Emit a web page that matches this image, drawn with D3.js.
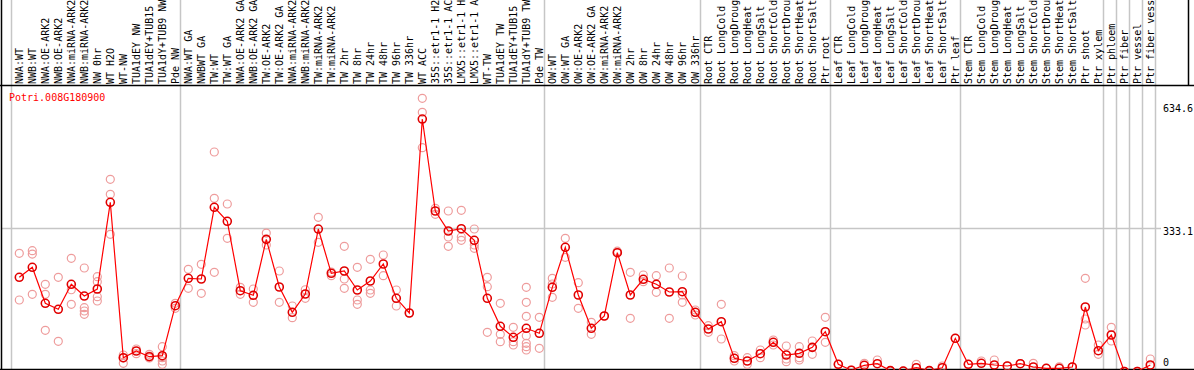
<!DOCTYPE html>
<meta charset="utf-8">
<title>Potri.008G180900</title>
<style>
body {
  margin: 0;
  background: #fff;
}
text {
  font-family: "DejaVu Sans Mono", monospace;
  font-size: 10px;
}
</style>
<body>
<script src="https://cdnjs.cloudflare.com/ajax/libs/d3/7.8.5/d3.min.js"></script>
<script>
var geneId = "Potri.008G180900";

var samples = [
  "NWA:WT", "NWB:WT", "NWA:OE-ARK2", "NWB:OE-ARK2", "NWA:miRNA-ARK2", "NWB:miRNA-ARK2",
  "NW 0hr", "WT H2O", "WT-NW", "TUA1dEY NW", "TUA1dEY+TUB15 NW", "TUA1dY+TUB9 NW", "Pde NW",
  "NWA:WT GA", "NWBWT GA", "TW:WT", "TW:WT GA", "NWA:OE-ARK2 GA", "NWB:OE-ARK2 GA",
  "TW:OE-ARK2", "TW:OE-ARK2 GA", "NWA:miRNA-ARK2", "NWB:miRNA-ARK2", "TW:miRNA-ARK2", "TW:miRNA-ARK2",
  "TW 2hr", "TW 8hr", "TW 24hr", "TW 48hr", "TW 96hr", "TW 336hr", "WT ACC",
  "35S::etr1-1 H2O", "35S::etr1-1 ACC", "LMX5::etr1-1 H2O", "LMX5::etr1-1 ACC",
  "WT-TW", "TUA1dEY TW", "TUA1dEY+TUB15 TW", "TUA1dY+TUB9 TW", "Pde TW",
  "OW:WT", "OW:WT GA", "OW:OE-ARK2", "OW:OE-ARK2 GA", "OW:miRNA-ARK2", "OW:miRNA-ARK2",
  "OW 2hr", "OW 8hr", "OW 24hr", "OW 48hr", "OW 96hr", "OW 336hr",
  "Root CTR", "Root LongCold", "Root LongDrought", "Root LongHeat", "Root LongSalt",
  "Root ShortCold", "Root ShortDrought", "Root ShortHeat", "Root ShortSalt", "Ptr root",
  "Leaf CTR", "Leaf LongCold", "Leaf LongDrought", "Leaf LongHeat", "Leaf LongSalt",
  "Leaf ShortCold", "Leaf ShortDrought", "Leaf ShortHeat", "Leaf ShortSalt", "Ptr leaf",
  "Stem CTR", "Stem LongCold", "Stem LongDrought", "Stem LongHeat", "Stem LongSalt",
  "Stem ShortCold", "Stem ShortDrought", "Stem ShortHeat", "Stem ShortSalt", "Ptr shoot", "Ptr xylem",
  "Ptr phloem", "Ptr fiber", "Ptr vessel", "Ptr fiber vessel"
];

// index where each group of samples starts (last one closes the final group)
var groupStarts = [0, 13, 41, 53, 63, 73, 84, 85, 86, 87, 88];

var means = [
  219.4, 242.6, 159.1, 145.2, 203.2, 176.0, 192.3, 393.4, 32.9, 48.5, 35.3, 37.6, 153.5,
  217.1, 215.5, 381.8, 349.3, 188.3, 177.7, 307.5, 196.9, 138.2, 180.7, 331.4, 228.7, 234.0,
  190.0, 210.8, 250.3, 170.7, 136.6, 586.5, 373.2, 326.8, 332.1, 305.2, 170.7, 105.8, 80.2, 101.1, 89.5,
  196.2, 289.0, 178.4, 101.1, 129.7, 276.5, 178.4, 214.8, 203.2, 185.3, 186.0, 138.2,
  99.5, 116.4, 31.5, 25.3, 42.2, 68.7, 39.2, 43.1, 57.0, 93.2,
  17.6, 4.0, 15.3, 19.0, 3.0, 2.0, 9.7, 3.0, 9.7, 77.9,
  17.6, 19.9, 16.0, 13.7, 19.0, 11.4, 8.3, 8.3, 11.4, 150.5, 49.2,
  85.6, 1.0, 1.0, 16.0
];

var replicates = [
  [275.1, 166.8], [281.1, 273.4, 180.0], [203.2, 180.0, 96.5], [219.4, 71.0],
  [263.5, 190.6, 156.8], [241.0, 148.9, 141.2, 133.6], [220.8, 209.2, 174.4, 164.4],
  [446.7, 411.9, 319.1], [39.2, 19.9, 32.0], [53.1, 42.2], [40.8, 32.2, 36.9],
  [58.4, 32.9, 25.3, 17.6], [159.1, 147.5],
  [238.0, 193.9], [249.6, 182.3], [510.0, 402.6, 231.0], [389.4, 309.9], [196.2, 180.0],
  [192.3, 161.4], [322.1, 294.3], [234.0, 161.4], [152.8, 125.7], [190.6, 170.7],
  [358.6, 300.6], [231.7, 223.1], [291.3, 215.5, 193.9], [242.6, 166.8, 156.8],
  [261.2, 190.0, 182.3], [271.1, 223.1], [190.0, 152.8], [136.6], [634.6, 602.1, 520.0],
  [379.4, 365.5], [373.2, 312.9, 291.3], [374.8, 312.9, 305.2], [331.4, 294.3, 286.7],
  [219.4, 197.6, 91.8], [159.1, 87.2, 70.0], [103.4, 70.0, 62.4],
  [196.2, 161.4, 128.9, 84.0, 66.3, 58.4, 50.8], [126.6, 54.7],
  [217.1, 203.9, 173.0], [309.9, 265.8], [206.9, 147.5], [115.0, 87.2], [129.7],
  [276.5, 280.0], [231.0, 124.3], [224.7, 209.2], [223.1, 184.6], [241.0, 124.3],
  [222.4, 178.4, 161.4], [143.6, 132.0],
  [107.2, 91.8], [156.8, 76.3], [37.6, 25.3], [32.9, 17.6], [50.8, 32.9], [74.0, 62.4],
  [60.1, 29.9, 23.7], [58.4, 32.9, 27.6], [71.7, 40.8], [126.6, 68.7],
  [17.6], [4.0], [19.9], [27.6], [3.0], [2.0], [17.6], [3.0], [13.7], [77.9],
  [17.6], [25.3], [27.6], [13.7], [19.0], [19.9], [8.3], [12.0], [11.4],
  [217.1, 122.7, 108.8], [62.4, 40.8],
  [103.4, 71.7], [1.0], [1.0], [29.9]
];

var tickValues = [634.6, 333.1, 0];
var gridValues = [333.1];

var w = 1194,
    h = 370,
    plotTop = 85.5,
    plotBottom = 369.5,
    maxChars = 14; // header is 84px tall, room for 14 glyphs

var x = d3.scaleLinear()
    .domain([0, samples.length - 1])
    .range([19.3, 19.3 + 13 * (samples.length - 1)]);

var y = d3.scaleLinear()
    .domain([0, 634.6])
    .range([371.9, 98.3]);

var svg = d3.select("body").append("svg")
    .attr("width", w)
    .attr("height", h);

svg.append("clipPath")
    .attr("id", "plot")
  .append("rect")
    .attr("x", 0)
    .attr("y", plotTop)
    .attr("width", w)
    .attr("height", plotBottom - plotTop);

// group separators
svg.selectAll("line.sep")
    .data(groupStarts)
  .enter().append("line")
    .attr("class", "sep")
    .attr("x1", function(d) { return Math.round(x(d) - 8) + 0.5; })
    .attr("x2", function(d) { return Math.round(x(d) - 8) + 0.5; })
    .attr("y1", 0)
    .attr("y2", plotBottom)
    .style("stroke", "#c6c6c6")
    .style("stroke-width", 1.5);

svg.selectAll("line.grid")
    .data(gridValues)
  .enter().append("line")
    .attr("class", "grid")
    .attr("x1", 1)
    .attr("x2", 1161)
    .attr("y1", function(d) { return Math.round(y(d)) + 0.5; })
    .attr("y2", function(d) { return Math.round(y(d)) + 0.5; })
    .style("stroke", "#c6c6c6")
    .style("stroke-width", 1.5);

// sample labels, rotated; long names are cut to what fits the header
svg.selectAll("text.sample")
    .data(samples)
  .enter().append("text")
    .attr("class", "sample")
    .attr("transform", function(d, i) { return "translate(" + (x(i) + 3.5) + ",84)rotate(-90)"; })
    .style("fill", "#000")
    .text(function(d) { return d.length > maxChars ? d.slice(0, maxChars).trim() : d; })
  .append("title")
    .text(function(d) { return d; });

// frame
svg.append("path")
    .attr("d", "M1.5,0V" + plotBottom + "M0," + plotTop + "H" + w + "M0," + plotBottom + "H" + w + "M1188.5,0V" + plotTop)
    .style("fill", "none")
    .style("stroke", "#000")
    .style("stroke-width", 1.5);

var plot = svg.append("g")
    .attr("clip-path", "url(#plot)");

var reps = [];
replicates.forEach(function(r, i) {
  r.forEach(function(v) { reps.push({i: i, v: v}); });
});

plot.selectAll("circle.rep")
    .data(reps)
  .enter().append("circle")
    .attr("class", "rep")
    .attr("cx", function(d) { return x(d.i); })
    .attr("cy", function(d) { return y(d.v); })
    .attr("r", 4)
    .style("fill", "none")
    .style("stroke", "#ee9c9c")
    .style("stroke-width", 1.2);

plot.append("path")
    .datum(means)
    .attr("d", d3.line()
        .x(function(d, i) { return x(i); })
        .y(function(d) { return y(d); }))
    .style("fill", "none")
    .style("stroke", "#f00")
    .style("stroke-width", 1.2);

plot.selectAll("circle.mean")
    .data(means)
  .enter().append("circle")
    .attr("class", "mean")
    .attr("cx", function(d, i) { return x(i); })
    .attr("cy", function(d) { return y(d); })
    .attr("r", 4)
    .style("fill", "none")
    .style("stroke", "#e00000")
    .style("stroke-width", 1.6);

svg.append("text")
    .attr("x", 9)
    .attr("y", 101)
    .style("fill", "#f00")
    .text(geneId);

svg.selectAll("text.tick")
    .data(tickValues)
  .enter().append("text")
    .attr("class", "tick")
    .attr("x", 1163)
    .attr("y", function(d) { return Math.min(Math.max(y(d) + 7, plotTop + 26), 365.5); })
    .style("fill", "#000")
    .text(function(d) { return d; });
</script>
